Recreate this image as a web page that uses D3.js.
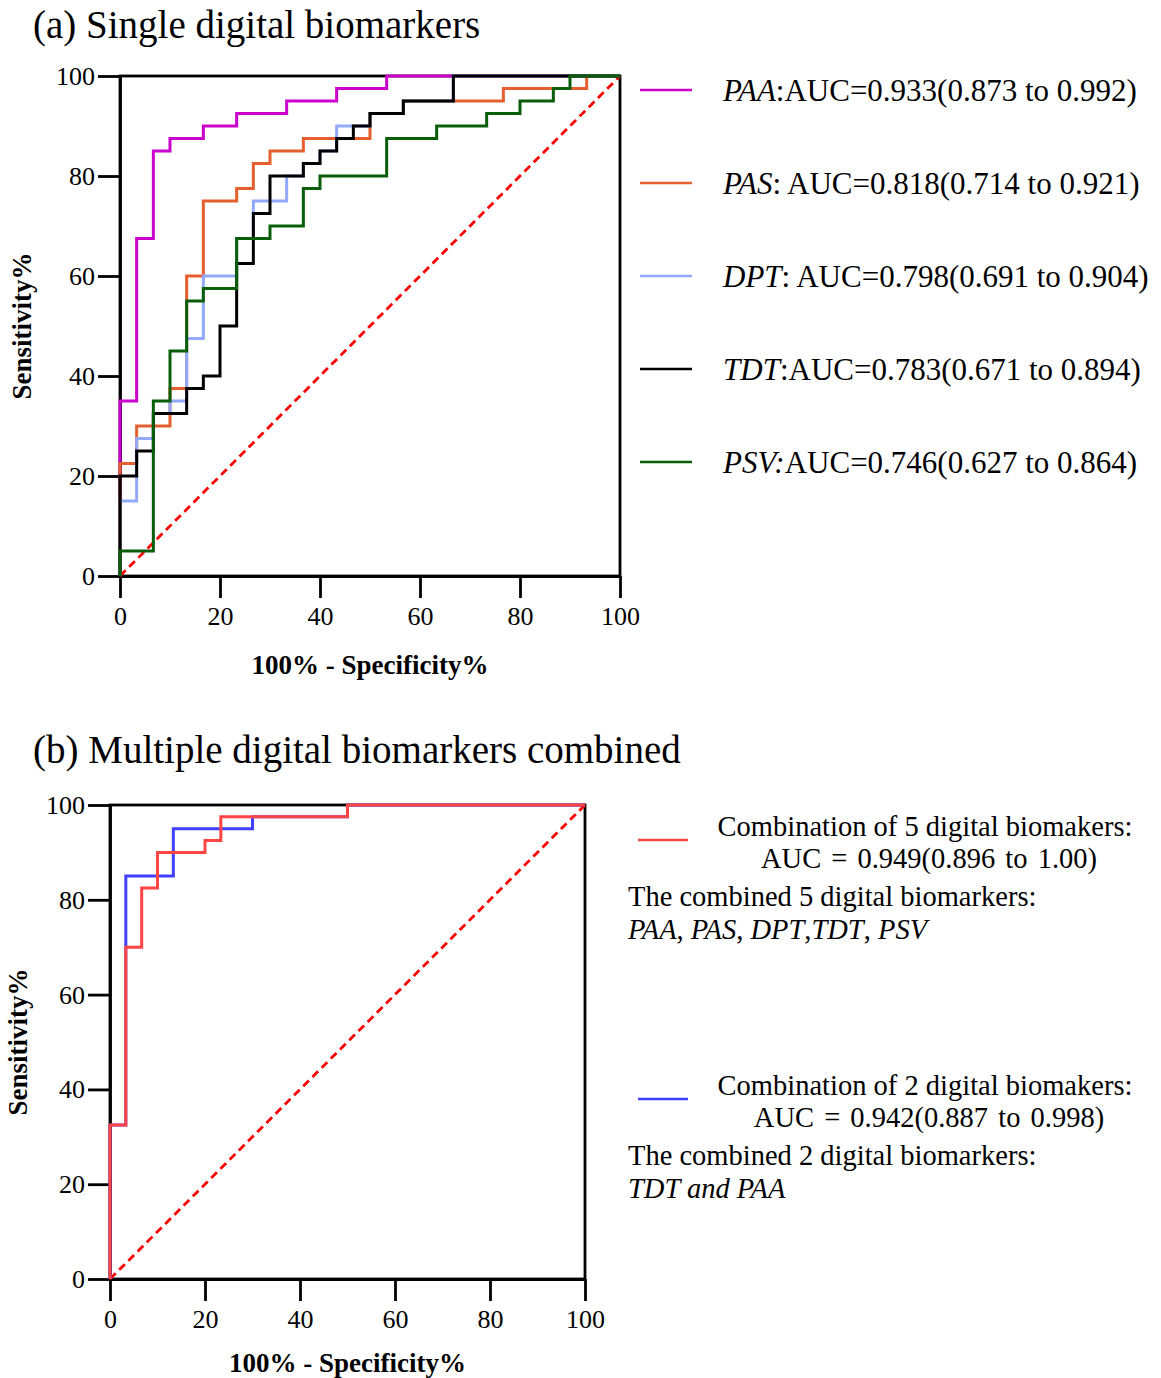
<!DOCTYPE html>
<html>
<head>
<meta charset="utf-8">
<script src="https://cdn.jsdelivr.net/npm/d3@7"></script>
<style>
  html, body { margin: 0; padding: 0; background: #fff; }
  svg { display: block; font-family: "Liberation Serif", "Times New Roman", serif; }
</style>
</head>
<body>
<svg id="chart" width="1161" height="1378"></svg>
<script>
// ---------- Data ----------
// ROC corner points: 100% - Specificity% (fpr) and Sensitivity% (tpr)
const fprPAA = [0, 0, 3.33, 6.67, 10, 16.67, 23.33, 33.33, 43.33, 53.33, 100];
const tprPAA = [0, 35, 67.5, 85, 87.5, 90, 92.5, 95, 97.5, 100, 100];

const fprPAS = [0, 0, 3.33, 10, 13.33, 16.67, 23.33, 26.67, 30, 36.67, 50, 56.67, 76.67, 93.33, 100];
const tprPAS = [0, 22.5, 30, 37.5, 60, 75, 77.5, 82.5, 85, 87.5, 92.5, 95, 97.5, 100, 100];

const fprDPT = [0, 0, 3.33, 6.67, 10, 13.33, 16.67, 23.33, 26.67, 33.33, 36.67, 40, 43.33, 50, 56.67, 66.67, 100];
const tprDPT = [0, 15, 27.5, 32.5, 35, 47.5, 60, 67.5, 75, 80, 82.5, 85, 90, 92.5, 95, 100, 100];

const fprTDT = [0, 0, 3.33, 6.67, 13.33, 16.67, 20, 23.33, 26.67, 30, 36.67, 40, 43.33, 46.67, 50, 56.67, 66.67, 100];
const tprTDT = [0, 20, 25, 32.5, 37.5, 40, 50, 62.5, 72.5, 80, 82.5, 85, 87.5, 90, 92.5, 95, 100, 100];

const fprPSV = [0, 0, 6.67, 10, 13.33, 16.67, 23.33, 30, 36.67, 40, 53.33, 63.33, 73.33, 80, 86.67, 90, 100];
const tprPSV = [0, 5, 35, 45, 55, 57.5, 67.5, 70, 77.5, 80, 87.5, 90, 92.5, 95, 97.5, 100, 100];

const fprComb2 = [0, 0, 3.33, 13.33, 30, 50, 100];
const tprComb2 = [0, 32.5, 85, 95, 97.5, 100, 100];

const fprComb5 = [0, 0, 3.33, 6.67, 10, 20, 23.33, 50, 100];
const tprComb5 = [0, 32.5, 70, 82.5, 90, 92.5, 97.5, 100, 100];

const tickValues = [0, 20, 40, 60, 80, 100];
const titleA = "(a) Single digital biomarkers";
const titleB = "(b) Multiple digital biomarkers combined";
const xTitle = "100% - Specificity%";
const yTitle = "Sensitivity%";

const legendA = [
  {it: "PAA", rest: ":AUC=0.933(0.873 to 0.992)", color: "#cc00cc"},
  {it: "PAS", rest: ": AUC=0.818(0.714 to 0.921)", color: "#e6602f"},
  {it: "DPT", rest: ": AUC=0.798(0.691 to 0.904)", color: "#93a9fb"},
  {it: "TDT", rest: ":AUC=0.783(0.671 to 0.894)", color: "#000000"},
  {it: "PSV:", rest: "AUC=0.746(0.627 to 0.864)", color: "#0a5e0a"}
];

// ---------- Drawing ----------
const svg = d3.select("#chart");
const zip = (xs, ys) => xs.map((x, i) => [x, ys[i]]);

function panel(cfg) {
  const x = d3.scaleLinear().domain([0, 100]).range([cfg.left, cfg.right]);
  const y = d3.scaleLinear().domain([0, 100]).range([cfg.bottom, cfg.top]);
  const g = svg.append("g");

  // frame (top & right)
  g.append("rect")
    .attr("x", cfg.left).attr("y", cfg.top)
    .attr("width", cfg.right - cfg.left).attr("height", cfg.bottom - cfg.top)
    .attr("fill", "none").attr("stroke", "#000").attr("stroke-width", 2.8);

  // axes
  const xAxis = g.append("g").attr("transform", `translate(0,${cfg.bottom})`)
    .call(d3.axisBottom(x).tickValues(tickValues).tickSize(22).tickPadding(9).tickSizeOuter(0));
  const yAxis = g.append("g").attr("transform", `translate(${cfg.left},0)`)
    .call(d3.axisLeft(y).tickValues(tickValues).tickSize(22).tickPadding(3).tickSizeOuter(0));
  [xAxis, yAxis].forEach(a => {
    a.selectAll("path, line").attr("stroke", "#000").attr("stroke-width", 2.8);
    a.selectAll("text").attr("font-family", "Liberation Serif").attr("font-size", 26).attr("fill", "#000");
  });
  yAxis.selectAll("text").attr("dy", "0.33em");
  xAxis.selectAll("text").attr("dy", "0.71em");

  // diagonal reference
  g.append("line")
    .attr("x1", x(0)).attr("y1", y(0)).attr("x2", x(100)).attr("y2", y(100))
    .attr("stroke", "#ff0000").attr("stroke-width", 2.8).attr("stroke-dasharray", "8,5");

  const line = d3.line().x(d => x(d[0])).y(d => y(d[1])).curve(d3.curveStepAfter);
  cfg.series.forEach(s => {
    g.append("path").attr("d", line(s.pts)).attr("fill", "none")
      .attr("stroke", s.color).attr("stroke-width", 3);
  });

  // titles
  svg.append("text").attr("x", 33).attr("y", cfg.titleY)
    .attr("font-size", 39).text(cfg.title);
  svg.append("text").attr("x", (cfg.left + cfg.right) / 2).attr("y", cfg.xTitleY)
    .attr("text-anchor", "middle").attr("font-size", 27).attr("font-weight", "bold").text(xTitle);
  svg.append("text")
    .attr("transform", `translate(${cfg.yTitleX},${(cfg.top + cfg.bottom) / 2}) rotate(-90)`)
    .attr("text-anchor", "middle").attr("font-size", 27).attr("font-weight", "bold").text(yTitle);
  return {x, y};
}

panel({
  left: 120, right: 620, top: 76, bottom: 576,
  title: titleA, titleY: 38, xTitleY: 674, yTitleX: 31,
  series: [
    {pts: zip(fprPAA, tprPAA), color: legendA[0].color},
    {pts: zip(fprPAS, tprPAS), color: legendA[1].color},
    {pts: zip(fprDPT, tprDPT), color: legendA[2].color},
    {pts: zip(fprTDT, tprTDT), color: legendA[3].color},
    {pts: zip(fprPSV, tprPSV), color: legendA[4].color}
  ]
});

panel({
  left: 110, right: 585, top: 805, bottom: 1279,
  title: titleB, titleY: 763, xTitleY: 1372, yTitleX: 27,
  series: [
    {pts: zip(fprComb2, tprComb2), color: "#4040ff"},
    {pts: zip(fprComb5, tprComb5), color: "#ff4444"}
  ]
});

// legend (a)
const legA = svg.append("g");
legendA.forEach((d, i) => {
  const cy = 90 + i * 93;
  legA.append("line").attr("x1", 640).attr("x2", 692).attr("y1", cy).attr("y2", cy)
    .attr("stroke", d.color).attr("stroke-width", 2.6);
  const t = legA.append("text").attr("x", 723).attr("y", cy + 11).attr("font-size", 31);
  t.append("tspan").attr("font-style", "italic").text(d.it);
  t.append("tspan").text(d.rest);
});

// legend (b)
const legB = svg.append("g");
function comboBlock(y0, color, l1, l2, l3, l4) {
  legB.append("line").attr("x1", 638).attr("x2", 688).attr("y1", y0 + 4).attr("y2", y0 + 4)
    .attr("stroke", color).attr("stroke-width", 2.6);
  legB.append("text").attr("x", 925).attr("y", y0).attr("text-anchor", "middle").attr("font-size", 28.5).text(l1);
  legB.append("text").attr("x", 929).attr("y", y0 + 32).attr("text-anchor", "middle").attr("font-size", 28.5)
    .attr("word-spacing", 3).text(l2);
  legB.append("text").attr("x", 628).attr("y", y0 + 70).attr("font-size", 28.5).text(l3);
  const t = legB.append("text").attr("x", 628).attr("y", y0 + 103).attr("font-size", 28.5);
  l4.forEach(p => t.append("tspan").attr("font-style", p.i ? "italic" : "normal").text(p.t));
}
comboBlock(836, "#ff4444",
  "Combination of 5 digital biomakers:",
  "AUC = 0.949(0.896 to 1.00)",
  "The combined 5 digital biomarkers:",
  [{t: "PAA", i: 1}, {t: ", "}, {t: "PAS", i: 1}, {t: ", "}, {t: "DPT", i: 1}, {t: ","}, {t: "TDT", i: 1}, {t: ", "}, {t: "PSV", i: 1}]);
comboBlock(1095, "#4040ff",
  "Combination of 2 digital biomakers:",
  "AUC = 0.942(0.887 to 0.998)",
  "The combined 2 digital biomarkers:",
  [{t: "TDT and PAA", i: 1}]);
</script>
</body>
</html>
